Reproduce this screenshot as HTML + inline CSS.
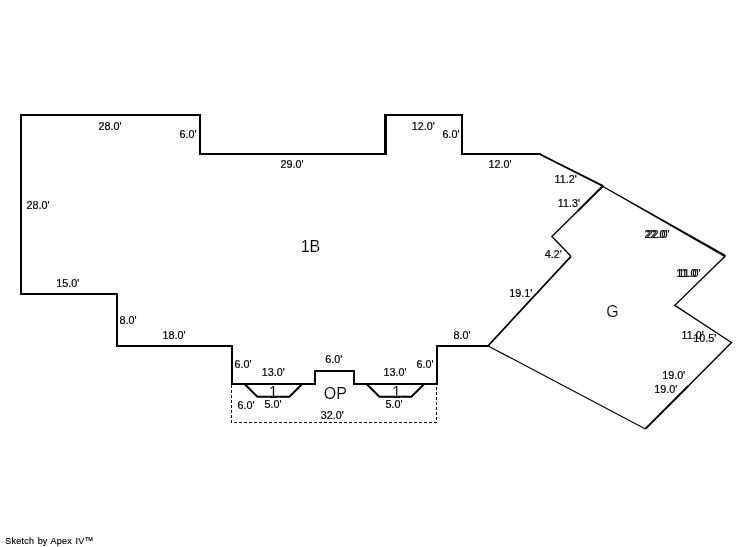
<!DOCTYPE html>
<html><head><meta charset="utf-8"><title>Sketch</title>
<style>
html,body{margin:0;padding:0;background:#fff;}
body{width:746px;height:547px;overflow:hidden;position:relative;font-family:"Liberation Sans",Arial,sans-serif;}
svg{position:absolute;left:0;top:0;display:block;will-change:transform}
.d{font:10px "Liberation Sans",Arial,sans-serif;fill:#000;stroke:#000;stroke-width:0.2px}
.b{font:16px "Liberation Sans",Arial,sans-serif;fill:#000;stroke:#fff;stroke-width:0.18px}
.f{font:9px "Liberation Sans",Arial,sans-serif;letter-spacing:0.22px;word-spacing:0.8px;fill:#000;stroke:#000;stroke-width:0.15px}
</style></head><body>
<svg width="746" height="547" viewBox="0 0 746 547">
<rect width="746" height="547" fill="#fff"/>
<g>
</g><g fill="#000" stroke="none" shape-rendering="crispEdges">
<rect x="436" y="345" width="53.5" height="2"/>
<rect x="436" y="345" width="2" height="40"/>
<rect x="353" y="383" width="85" height="2"/>
<rect x="353" y="370" width="2" height="15"/>
<rect x="314" y="370" width="41" height="2"/>
<rect x="314" y="370" width="2" height="15"/>
<rect x="231" y="383" width="85" height="2"/>
<rect x="231" y="345" width="2" height="40"/>
<rect x="116" y="345" width="117" height="2"/>
<rect x="116" y="293" width="2" height="54"/>
<rect x="20" y="293" width="98" height="2"/>
<rect x="20" y="114" width="2" height="181"/>
<rect x="20" y="114" width="181" height="2"/>
<rect x="199" y="114" width="2" height="41"/>
<rect x="199" y="153" width="187" height="2"/>
<rect x="384" y="114" width="3" height="41"/>
<rect x="384" y="114" width="79" height="2"/>
<rect x="461" y="114" width="2" height="41"/>
<rect x="461" y="153" width="80" height="2"/>
</g><g fill="none" stroke="#000">
<polyline points="540.0,154.3 603.2,186.1" stroke-width="1.8"/>
<polyline points="603.2,185.8 577.5,211.2" stroke-width="2"/>
<polyline points="577.5,211.2 551.9,236.6 571.0,256.3" stroke-width="1.4"/>
<polyline points="571.0,256.3 488.0,345.9" stroke-width="1.7"/>
<polyline points="244.6,384 257.4,396.8 289.4,396.8 302.2,384" stroke-width="2"/>
<polyline points="366.6,384 379.4,396.8 411.4,396.8 424.2,384" stroke-width="2"/>
<polygon points="603.3,185.98 725.9,255.06 724.7,257.14 602.7,187.02" fill="#000" stroke="none"/>
<polyline points="725.3,256.1 674.8,305.3 731.5,342.5 688.5,385.7" stroke-width="1.4"/>
<polyline points="688.5,385.7 645.4,428.9" stroke-width="2"/>
<polyline points="645.4,428.9 488.0,345.9" stroke-width="1.15"/>
</g><g fill="none" stroke="#000" shape-rendering="crispEdges">
<polyline points="231.5,385 231.5,422.5 436.5,422.5 436.5,385" stroke-width="1" stroke-dasharray="3.3,1.7"/>
</g>
<text class="d" transform="translate(98.46,130) scale(1.08,1)">28.0'</text>
<text class="d" transform="translate(179.46,138) scale(1.08,1)">6.0'</text>
<text class="d" transform="translate(280.46,168) scale(1.08,1)">29.0'</text>
<text class="d" transform="translate(411.80,130) scale(1.08,1)">12.0'</text>
<text class="d" transform="translate(442.46,138) scale(1.08,1)">6.0'</text>
<text class="d" transform="translate(488.50,168) scale(1.08,1)">12.0'</text>
<text class="d" transform="translate(554.50,183) scale(1.08,1)">11.2'</text>
<text class="d" transform="translate(557.80,207) scale(1.08,1)">11.3'</text>
<text class="d" transform="translate(544.83,258) scale(1.08,1)">4.2'</text>
<text class="d" transform="translate(509.20,297) scale(1.08,1)">19.1'</text>
<text class="d" transform="translate(453.56,339) scale(1.08,1)">8.0'</text>
<text class="d" transform="translate(26.46,209) scale(1.08,1)">28.0'</text>
<text class="d" transform="translate(56.20,287) scale(1.08,1)">15.0'</text>
<text class="d" transform="translate(119.46,324) scale(1.08,1)">8.0'</text>
<text class="d" transform="translate(162.50,339) scale(1.08,1)">18.0'</text>
<text class="d" transform="translate(234.46,368) scale(1.08,1)">6.0'</text>
<text class="d" transform="translate(261.80,376) scale(1.08,1)">13.0'</text>
<text class="d" transform="translate(325.36,363) scale(1.08,1)">6.0'</text>
<text class="d" transform="translate(383.50,376) scale(1.08,1)">13.0'</text>
<text class="d" transform="translate(416.46,368) scale(1.08,1)">6.0'</text>
<text class="d" transform="translate(237.46,409) scale(1.08,1)">6.0'</text>
<text class="d" transform="translate(264.59,408) scale(1.08,1)">5.0'</text>
<text class="d" transform="translate(385.59,408) scale(1.08,1)">5.0'</text>
<text class="d" transform="translate(320.79,419) scale(1.08,1)">32.0'</text>
<text class="d" transform="translate(644.46,238) scale(1.08,1)">22.0'</text>
<text class="d" transform="translate(646.46,238) scale(1.08,1)">22.0'</text>
<text class="d" transform="translate(676.20,277) scale(1.08,1)">11.0'</text>
<text class="d" transform="translate(678.20,277) scale(1.08,1)">11.0'</text>
<text class="d" transform="translate(681.50,339) scale(1.08,1)">11.0'</text>
<text class="d" transform="translate(693.30,342) scale(1.08,1)">10.5'</text>
<text class="d" transform="translate(662.20,379) scale(1.08,1)">19.0'</text>
<text class="d" transform="translate(654.20,393) scale(1.08,1)">19.0'</text>
<text class="b" transform="translate(300.65,252) scale(1,1.07)">1B</text>
<text class="b" transform="translate(606.25,317) scale(1,1.07)">G</text>
<text class="b" transform="translate(323.75,399) scale(1,1.07)">OP</text>
<text class="b" transform="translate(268.75,398) scale(1,1.07)">1</text>
<text class="b" transform="translate(392.05,398) scale(1,1.07)">1</text>
<text class="f" transform="translate(5.32,544) scale(1,1.08)">Sketch by Apex IV™</text>
</svg></body></html>
